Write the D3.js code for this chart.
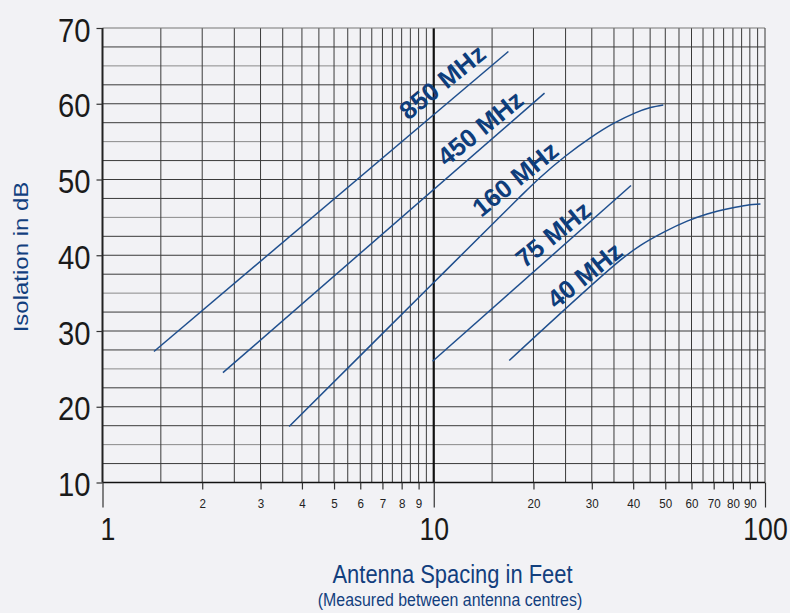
<!DOCTYPE html>
<html>
<head>
<meta charset="utf-8">
<script src="https://cdn.jsdelivr.net/npm/d3@7"></script>
<style>
  body { margin: 0; background: #f2f2f5; }
  svg { display: block; font-family: "Liberation Sans", Arial, sans-serif; }
</style>
</head>
<body>
<svg id="chart" width="790" height="613"></svg>
<script>
// curves: [feet, dB]
var mhz850 = [[1.43, 27.3], [16.8, 66.9]];
var mhz450 = [[2.31, 24.5], [21.6, 61.4]];
var mhz160 = [[3.66, 17.4], [10, 36.4], [18, 47.5], [21, 50.3], [25, 53.1], [29.7, 55.5], [34.9, 57.4], [40.6, 58.8], [45.1, 59.5], [49.3, 59.85]];
var mhz75  = [[9.92, 26.0], [39.4, 49.2]];
var mhz40  = [[16.9, 26.1], [36.6, 39.35], [42.1, 41.3], [49.5, 43.05], [58.2, 44.5], [66.9, 45.45], [78.7, 46.2], [88.3, 46.6], [96.9, 46.75]];

var seriesNames = ["850 MHz", "450 MHz", "160 MHz", "75 MHz", "40 MHz"];
var seriesData  = [mhz850, mhz450, mhz160, mhz75, mhz40];
// where each label sits: [feet, dB]
var labelAt = [[10.6, 62.9], [13.8, 56.8], [17.6, 50.1], [22.9, 42.8], [28.5, 37.4]];

var yTicks = [10, 20, 30, 40, 50, 60, 70];
var xMajor = [1, 10, 100];
var xMinor = [2, 3, 4, 5, 6, 7, 8, 9, 20, 30, 40, 50, 60, 70, 80, 90];
var gridX = [1.5, 2, 2.5, 3, 3.5, 4, 4.5, 5, 5.5, 6, 6.5, 7, 7.5, 8, 8.5, 9, 9.5, 10,
             15, 20, 25, 30, 35, 40, 45, 50, 55, 60, 65, 70, 75, 80, 85, 90, 95];
var gridY = [12.5, 15, 17.5, 20, 22.5, 25, 27.5, 30, 32.5, 35, 37.5, 40, 42.5, 45,
             47.5, 50, 52.5, 55, 57.5, 60, 62.5, 65, 67.5];

var squeeze = 0.86;   // the original artwork is a bit narrow
var lineColor = "#1f4f8e", labelColor = "#0e3d7b", titleColor = "#123f7e";

var svg = d3.select("#chart");

var x = d3.scaleLog().domain([1, 100]).range([102.5, 765]);
var y = d3.scaleLinear().domain([10, 70]).range([482.5, 28]);

// grid
svg.append("g").selectAll("line").data(gridY).enter().append("line")
  .attr("x1", x(1)).attr("x2", x(100))
  .attr("y1", function(d){ return y(d); }).attr("y2", function(d){ return y(d); })
  .attr("stroke", function(d){ return d % 10 == 5 ? "#8a8a8a" : "#3a3a3a"; })
  .attr("stroke-width", 1);

svg.append("g").selectAll("line").data(gridX).enter().append("line")
  .attr("x1", function(d){ return x(d); }).attr("x2", function(d){ return x(d); })
  .attr("y1", y(70)).attr("y2", y(10))
  .attr("stroke", function(d){ return d == 10 ? "#111" : "#3a3a3a"; })
  .attr("stroke-width", function(d){ return d == 10 ? 2.2 : 1; });

// frame
svg.append("line").attr("x1", x(1)).attr("x2", x(100)).attr("y1", y(70)).attr("y2", y(70))
  .attr("stroke", "#777").attr("stroke-width", 1.2);
svg.append("line").attr("x1", x(100)).attr("x2", x(100)).attr("y1", y(70)).attr("y2", y(10))
  .attr("stroke", "#555").attr("stroke-width", 1.2);
svg.append("line").attr("x1", x(1)).attr("x2", x(100)).attr("y1", y(10)).attr("y2", y(10))
  .attr("stroke", "#111").attr("stroke-width", 1.6);
svg.append("line").attr("x1", x(1)).attr("x2", x(1)).attr("y1", y(70)).attr("y2", y(10))
  .attr("stroke", "#222").attr("stroke-width", 2);

// axes
var gMinor = svg.append("g").attr("transform", "translate(0," + y(10) + ")")
  .call(d3.axisBottom(x).tickValues(xMinor).tickSize(7).tickFormat(d3.format("d")));
gMinor.selectAll("text").attr("y", null).attr("dy", null)
  .attr("transform", "translate(0,25.5) scale(" + squeeze + ",1)")
  .style("font-size", "13.5px").attr("fill", "#222");

var gMajor = svg.append("g").attr("transform", "translate(0," + y(10) + ")")
  .call(d3.axisBottom(x).tickValues(xMajor).tickSize(25).tickFormat(d3.format("d")));
gMajor.selectAll("text").attr("y", null).attr("dy", null)
  .attr("transform", function(d){ return "translate(" + (d == 1 ? 5 : 0) + ",57) scale(" + squeeze + ",1)"; })
  .style("font-size", "31px").attr("fill", "#1a1a1a");

var gLeft = svg.append("g").attr("transform", "translate(" + x(1) + ",0)")
  .call(d3.axisLeft(y).tickValues(yTicks).tickSize(6).tickFormat(d3.format("d")));
gLeft.selectAll("text").attr("x", null).attr("dy", "0.36em")
  .attr("transform", "translate(-12,1) scale(" + squeeze + ",1)")
  .style("font-size", "34px").attr("fill", "#1a1a1a");

[gMinor, gMajor, gLeft].forEach(function(g){
  g.select(".domain").remove();
  g.selectAll(".tick line").attr("stroke", "#333").attr("stroke-width", 1.2);
});

// curves
var line = d3.line()
  .x(function(d){ return x(d[0]); })
  .y(function(d){ return y(d[1]); })
  .curve(d3.curveCatmullRom.alpha(0.5));

svg.append("g").selectAll("path").data(seriesData).enter().append("path")
  .attr("d", line)
  .attr("fill", "none")
  .attr("stroke", lineColor)
  .attr("stroke-width", 1.5);

// curve labels
svg.append("g").selectAll("text").data(seriesNames).enter().append("text")
  .attr("transform", function(d, i){
    return "translate(" + x(labelAt[i][0]) + "," + y(labelAt[i][1]) + ") rotate(-39)";
  })
  .attr("text-anchor", "middle")
  .attr("dy", "0.36em")
  .style("font-size", "25.5px").style("font-weight", "bold")
  .attr("fill", labelColor)
  .text(function(d){ return d; });

// titles
svg.append("text")
  .attr("transform", "translate(28,257) scale(" + squeeze + ",1) rotate(-90)")
  .attr("text-anchor", "middle")
  .style("font-size", "24px").attr("fill", titleColor)
  .text("Isolation in dB");

svg.append("text")
  .attr("transform", "translate(452.5,583) scale(" + squeeze + ",1)")
  .attr("text-anchor", "middle")
  .style("font-size", "25.5px").attr("fill", titleColor)
  .text("Antenna Spacing in Feet");

svg.append("text")
  .attr("transform", "translate(450,606) scale(" + squeeze + ",1)")
  .attr("text-anchor", "middle")
  .style("font-size", "18.5px").attr("fill", titleColor)
  .text("(Measured between antenna centres)");
</script>
</body>
</html>
